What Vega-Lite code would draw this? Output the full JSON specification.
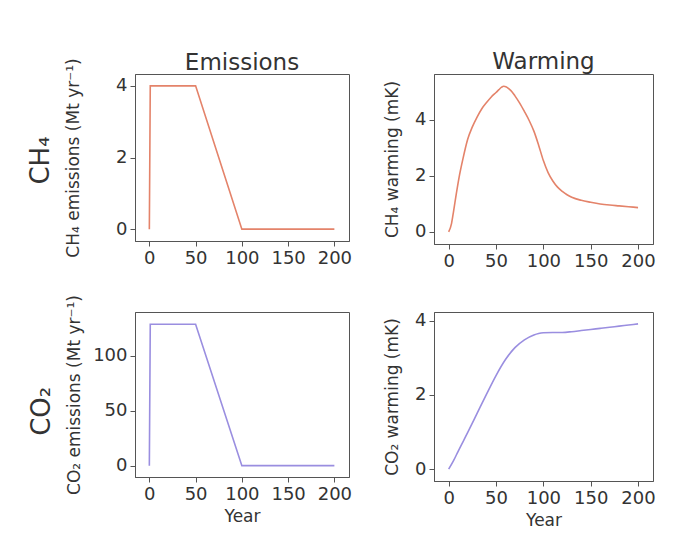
{
  "$schema": "https://vega.github.io/schema/vega-lite/v6.json",
  "background": "white",
  "padding": {"left": 28, "top": 50, "right": 5, "bottom": 5},
  "datasets": {
    "ch4_em": [
      {"year": 0, "value": 0}, {"year": 1, "value": 4}, {"year": 50, "value": 4},
      {"year": 100, "value": 0}, {"year": 200, "value": 0}
    ],
    "co2_em": [
      {"year": 0, "value": 0}, {"year": 1, "value": 128.5}, {"year": 50, "value": 128.5},
      {"year": 100, "value": 0}, {"year": 200, "value": 0}
    ],
    "ch4_warm": [
      {"year": 0, "value": 0}, {"year": 3, "value": 0.3}, {"year": 5, "value": 0.7},
      {"year": 8, "value": 1.35}, {"year": 11, "value": 1.95}, {"year": 15, "value": 2.6},
      {"year": 20, "value": 3.3}, {"year": 25, "value": 3.75}, {"year": 30, "value": 4.1},
      {"year": 35, "value": 4.4}, {"year": 40, "value": 4.62}, {"year": 45, "value": 4.82},
      {"year": 50, "value": 4.98}, {"year": 53, "value": 5.08}, {"year": 56, "value": 5.17},
      {"year": 58, "value": 5.2}, {"year": 61, "value": 5.18}, {"year": 64, "value": 5.1},
      {"year": 67, "value": 5.0}, {"year": 70, "value": 4.86},
      {"year": 75, "value": 4.6}, {"year": 80, "value": 4.3}, {"year": 85, "value": 3.98},
      {"year": 90, "value": 3.6}, {"year": 95, "value": 3.1}, {"year": 100, "value": 2.55},
      {"year": 105, "value": 2.12}, {"year": 110, "value": 1.82}, {"year": 115, "value": 1.6},
      {"year": 120, "value": 1.45}, {"year": 125, "value": 1.33}, {"year": 130, "value": 1.24},
      {"year": 140, "value": 1.13}, {"year": 150, "value": 1.06}, {"year": 160, "value": 1.0},
      {"year": 170, "value": 0.96}, {"year": 180, "value": 0.93}, {"year": 190, "value": 0.9},
      {"year": 200, "value": 0.87}
    ],
    "co2_warm": [
      {"year": 0, "value": 0}, {"year": 5, "value": 0.22}, {"year": 10, "value": 0.48},
      {"year": 20, "value": 0.98}, {"year": 30, "value": 1.5}, {"year": 40, "value": 2.02},
      {"year": 50, "value": 2.52}, {"year": 60, "value": 2.95}, {"year": 70, "value": 3.27},
      {"year": 80, "value": 3.48}, {"year": 90, "value": 3.61}, {"year": 95, "value": 3.65},
      {"year": 100, "value": 3.67}, {"year": 110, "value": 3.68}, {"year": 120, "value": 3.68},
      {"year": 130, "value": 3.7}, {"year": 140, "value": 3.73}, {"year": 150, "value": 3.76},
      {"year": 160, "value": 3.79}, {"year": 170, "value": 3.82}, {"year": 180, "value": 3.85},
      {"year": 190, "value": 3.88}, {"year": 200, "value": 3.91}
    ]
  },
  "vconcat": [
    {
      "title": {"text": "CH₄", "orient": "left", "anchor": "middle", "fontSize": 26, "offset": 10},
      "spacing": 30,
      "hconcat": [
        {
          "title": {"text": "Emissions", "offset": -17},
          "width": 214, "height": 167,
          "data": {"name": "ch4_em"},
          "mark": {"type": "line", "color": "#e4836a", "strokeWidth": 1.6},
          "encoding": {
            "x": {"field": "year", "type": "quantitative", "scale": {"domain": [-15.5, 215.8], "nice": false, "zero": false}, "axis": {"values": [0, 50, 100, 150, 200], "title": null}},
            "y": {"field": "value", "type": "quantitative", "scale": {"domain": [-0.33, 4.33], "nice": false, "zero": false}, "axis": {"values": [0, 2, 4], "title": "CH₄ emissions (Mt yr⁻¹)", "titlePadding": 33}}
          }
        },
        {
          "title": {"text": "Warming", "offset": 0},
          "width": 219, "height": 170,
          "data": {"name": "ch4_warm"},
          "mark": {"type": "line", "color": "#e4836a", "strokeWidth": 1.6, "interpolate": "monotone"},
          "encoding": {
            "x": {"field": "year", "type": "quantitative", "scale": {"domain": [-15.5, 215.8], "nice": false, "zero": false}, "axis": {"values": [0, 50, 100, 150, 200], "title": null}},
            "y": {"field": "value", "type": "quantitative", "scale": {"domain": [-0.43, 5.64], "nice": false, "zero": false}, "axis": {"values": [0, 2, 4], "title": "CH₄ warming (mK)", "titlePadding": 13}}
          }
        }
      ]
    },
    {
      "title": {"text": "CO₂", "orient": "left", "anchor": "middle", "fontSize": 26, "offset": 10},
      "spacing": 30,
      "hconcat": [
        {
          "width": 214, "height": 165,
          "data": {"name": "co2_em"},
          "mark": {"type": "line", "color": "#9a8ee0", "strokeWidth": 1.6},
          "encoding": {
            "x": {"field": "year", "type": "quantitative", "scale": {"domain": [-15.5, 215.8], "nice": false, "zero": false}, "axis": {"values": [0, 50, 100, 150, 200], "title": "Year", "titlePadding": 5}},
            "y": {"field": "value", "type": "quantitative", "scale": {"domain": [-10.3, 139.7], "nice": false, "zero": false}, "axis": {"values": [0, 50, 100], "title": "CO₂ emissions (Mt yr⁻¹)", "titlePadding": 9}}
          }
        },
        {
          "width": 219, "height": 169,
          "data": {"name": "co2_warm"},
          "mark": {"type": "line", "color": "#9a8ee0", "strokeWidth": 1.6, "interpolate": "monotone"},
          "encoding": {
            "x": {"field": "year", "type": "quantitative", "scale": {"domain": [-15.5, 215.8], "nice": false, "zero": false}, "axis": {"values": [0, 50, 100, 150, 200], "title": "Year", "titlePadding": 5}},
            "y": {"field": "value", "type": "quantitative", "scale": {"domain": [-0.32, 4.23], "nice": false, "zero": false}, "axis": {"values": [0, 2, 4], "title": "CO₂ warming (mK)", "titlePadding": 13}}
          }
        }
      ]
    }
  ],
  "spacing": 23,
  "config": {
    "font": "DejaVu Sans",
    "view": {"stroke": "#555555", "strokeWidth": 1},
    "axis": {
      "grid": false, "domainColor": "#555555", "tickColor": "#555555", "tickSize": 5,
      "labelFontSize": 18, "labelColor": "#333333", "labelPadding": 3, "labelFlush": false,
      "titleFontSize": 17, "titleFontWeight": "normal", "titleColor": "#333333"
    },
    "title": {"fontSize": 23, "fontWeight": "normal", "color": "#333333", "offset": 0}
  }
}
